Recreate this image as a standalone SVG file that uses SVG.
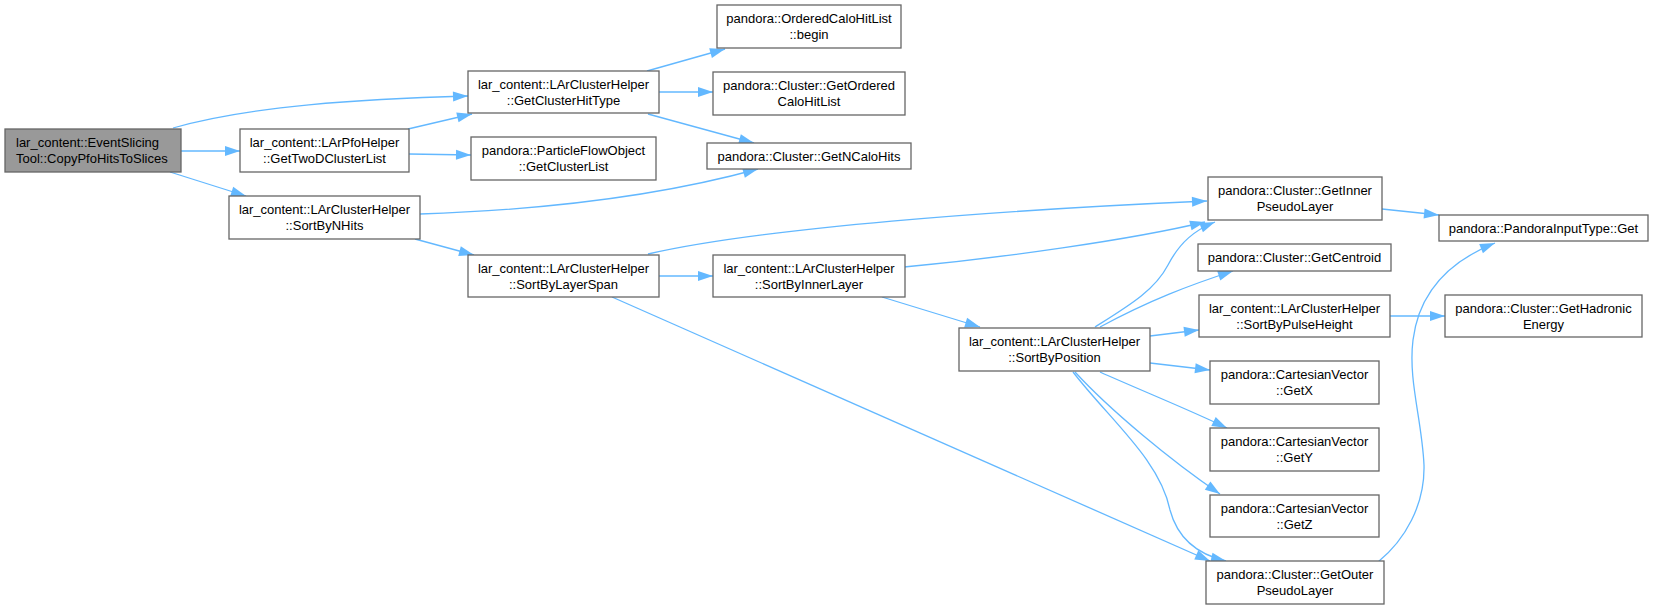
<svg xmlns="http://www.w3.org/2000/svg" width="1653" height="609" viewBox="0 0 1653 609">
<style>
.n rect{fill:#ffffff;stroke:#666666;stroke-width:1.3}
.root rect{fill:#999999}
text{font-family:"Liberation Sans",Arial,sans-serif;font-size:13px;fill:#000000;text-anchor:middle}
.l{text-anchor:start}
.e path{fill:none;stroke:#63b8ff;stroke-width:1.3;marker-end:url(#a)}
</style>
<defs>
<marker id="a" markerUnits="userSpaceOnUse" markerWidth="16" markerHeight="11" refX="15" refY="5" orient="auto" overflow="visible">
<path d="M0,0 L15,5 L0,10 z" fill="#63b8ff" stroke="none"/>
</marker>
</defs>
<g id="edges" class="e">
<path d="M173,128 C250,106 360,99 468,96"/>
<path d="M181,151 L240,151"/>
<path d="M170,172 L246,196"/>
<path d="M408,129 L472,114"/>
<path d="M409,154 L471,155"/>
<path d="M647,71 L725,49"/>
<path d="M659,92 L713,92"/>
<path d="M648,114 L754,143"/>
<path d="M420,214 C540,210 660,196 758,169"/>
<path d="M415,239 L474,255"/>
<path d="M648,254 C760,228 1000,210 1207,201"/>
<path d="M659,276 L713,276"/>
<path d="M612,297 L1210,561"/>
<path d="M904,267 C1000,258 1130,240 1205,222"/>
<path d="M882,297 L980,327"/>
<path d="M1095,327 C1130,305 1155,290 1168,265 C1180,242 1195,230 1215,222"/>
<path d="M1100,327 C1150,300 1190,285 1233,271"/>
<path d="M1150,336 L1199,330"/>
<path d="M1150,363 L1210,370"/>
<path d="M1100,372 C1140,390 1190,410 1227,428"/>
<path d="M1075,372 C1110,410 1170,460 1220,494"/>
<path d="M1073,372 C1110,420 1160,460 1170,510 C1178,540 1200,555 1226,561"/>
<path d="M1378,562 C1405,540 1425,505 1424,465 C1422,420 1408,380 1413,340 C1418,300 1440,265 1495,243"/>
<path d="M1382,209 L1439,215"/>
<path d="M1390,316 L1445,316"/>
</g>
<g id="n0" class="n root"><rect x="5" y="129" width="176" height="43"/><text class="l" x="16" y="147">lar_content::EventSlicing</text><text class="l" x="16" y="163">Tool::CopyPfoHitsToSlices</text></g>
<g id="n1" class="n"><rect x="240" y="129" width="169" height="43"/><text x="324.5" y="147">lar_content::LArPfoHelper</text><text x="324.5" y="163">::GetTwoDClusterList</text></g>
<g id="n2" class="n"><rect x="468" y="71" width="191" height="42"/><text x="563.5" y="88.5">lar_content::LArClusterHelper</text><text x="563.5" y="104.5">::GetClusterHitType</text></g>
<g id="n3" class="n"><rect x="471" y="137" width="185" height="43"/><text x="563.5" y="155">pandora::ParticleFlowObject</text><text x="563.5" y="171">::GetClusterList</text></g>
<g id="n4" class="n"><rect x="229" y="196" width="191" height="43"/><text x="324.5" y="214">lar_content::LArClusterHelper</text><text x="324.5" y="230">::SortByNHits</text></g>
<g id="n5" class="n"><rect x="468" y="255" width="191" height="42"/><text x="563.5" y="272.5">lar_content::LArClusterHelper</text><text x="563.5" y="288.5">::SortByLayerSpan</text></g>
<g id="n6" class="n"><rect x="717" y="5" width="184" height="43"/><text x="809" y="23">pandora::OrderedCaloHitList</text><text x="809" y="39">::begin</text></g>
<g id="n7" class="n"><rect x="713" y="72" width="192" height="43"/><text x="809" y="90">pandora::Cluster::GetOrdered</text><text x="809" y="106">CaloHitList</text></g>
<g id="n8" class="n"><rect x="707" y="143" width="204" height="26"/><text x="809" y="161">pandora::Cluster::GetNCaloHits</text></g>
<g id="n9" class="n"><rect x="713" y="255" width="192" height="42"/><text x="809" y="272.5">lar_content::LArClusterHelper</text><text x="809" y="288.5">::SortByInnerLayer</text></g>
<g id="n10" class="n"><rect x="959" y="328" width="191" height="43"/><text x="1054.5" y="346">lar_content::LArClusterHelper</text><text x="1054.5" y="362">::SortByPosition</text></g>
<g id="n11" class="n"><rect x="1208" y="177" width="174" height="43"/><text x="1295" y="195">pandora::Cluster::GetInner</text><text x="1295" y="211">PseudoLayer</text></g>
<g id="n12" class="n"><rect x="1198" y="244" width="193" height="27"/><text x="1294.5" y="262">pandora::Cluster::GetCentroid</text></g>
<g id="n13" class="n"><rect x="1199" y="295" width="191" height="42"/><text x="1294.5" y="312.5">lar_content::LArClusterHelper</text><text x="1294.5" y="328.5">::SortByPulseHeight</text></g>
<g id="n14" class="n"><rect x="1210" y="361" width="169" height="43"/><text x="1294.5" y="379">pandora::CartesianVector</text><text x="1294.5" y="395">::GetX</text></g>
<g id="n15" class="n"><rect x="1210" y="428" width="169" height="43"/><text x="1294.5" y="446">pandora::CartesianVector</text><text x="1294.5" y="462">::GetY</text></g>
<g id="n16" class="n"><rect x="1210" y="495" width="169" height="42"/><text x="1294.5" y="512.5">pandora::CartesianVector</text><text x="1294.5" y="528.5">::GetZ</text></g>
<g id="n17" class="n"><rect x="1206" y="561" width="178" height="43"/><text x="1295" y="579">pandora::Cluster::GetOuter</text><text x="1295" y="595">PseudoLayer</text></g>
<g id="n18" class="n"><rect x="1439" y="215" width="209" height="26"/><text x="1543.5" y="233">pandora::PandoraInputType::Get</text></g>
<g id="n19" class="n"><rect x="1445" y="295" width="197" height="42"/><text x="1543.5" y="312.5">pandora::Cluster::GetHadronic</text><text x="1543.5" y="328.5">Energy</text></g>
</svg>
